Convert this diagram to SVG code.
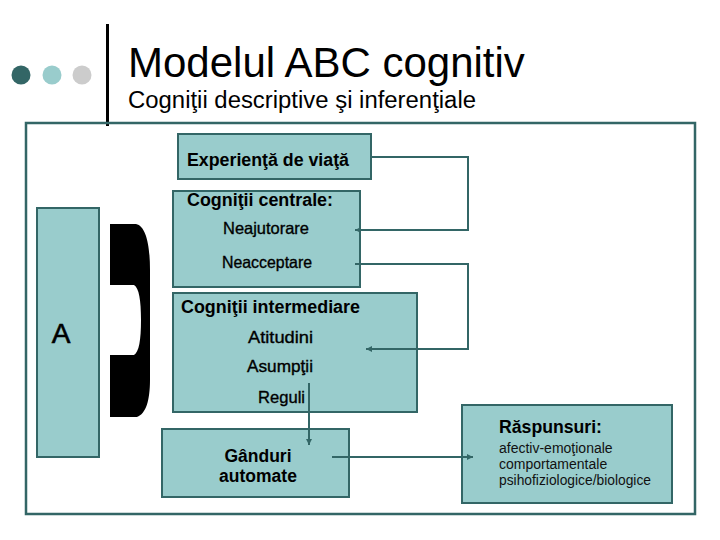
<svg xmlns="http://www.w3.org/2000/svg" width="720" height="540" viewBox="0 0 720 540">
<style>
.box{fill:#99cccc;stroke:#336666;stroke-width:2}
.hd{font-family:"Liberation Sans",Arial,sans-serif;font-weight:bold;font-size:17.5px;fill:#000}
.it{font-family:"Liberation Sans",Arial,sans-serif;font-size:16.5px;fill:#000;stroke:#000;stroke-width:0.35}
.sm{font-family:"Liberation Sans",Arial,sans-serif;font-size:14px;fill:#111}
.con{fill:none;stroke:#336666;stroke-width:2}
</style>
<defs>
<marker id="arr" markerUnits="userSpaceOnUse" markerWidth="8" markerHeight="8" refX="6" refY="3" orient="auto">
<path d="M0,0 L6,3 L0,6 Z" fill="#336666"/>
</marker>
</defs>
<rect width="720" height="540" fill="#ffffff"/>
<g id="header">
<circle cx="21" cy="75" r="9.5" fill="#336666"/>
<circle cx="52" cy="75" r="9.5" fill="#99cccc"/>
<circle cx="82" cy="75" r="9.5" fill="#cccccc"/>
<rect x="106" y="24" width="3" height="102" fill="#000"/>
<text x="128" y="77" font-family="'Liberation Sans',Arial,sans-serif" font-size="42" fill="#000">Modelul ABC cognitiv</text>
<text x="128" y="108" font-family="'Liberation Sans',Arial,sans-serif" font-size="23.5" fill="#000" textLength="348" lengthAdjust="spacingAndGlyphs">Cogniţii descriptive şi inferenţiale</text>
</g>
<rect id="frame" x="26" y="123" width="669" height="391" fill="none" stroke="#336666" stroke-width="2.5"/>
<g id="nodeA">
<rect class="box" x="37" y="208" width="62" height="249"/>
<text x="61" y="343" text-anchor="middle" font-family="'Liberation Sans',Arial,sans-serif" font-size="28" fill="#000" stroke="#000" stroke-width="0.6">A</text>
</g>
<g id="brace">
<path d="M110,224 L136,224 C146,226 150,245 150,270 L150,380 C150,400 146,414 137,417 L110,417 L110,355 L134,355 C139,352 141,340 141,320 C141,300 139,288 134,285 L110,285 Z" fill="#000"/>
</g>
<g id="experienta">
<rect class="box" x="178" y="134" width="193" height="45"/>
<text class="hd" x="187" y="166" textLength="162" lengthAdjust="spacingAndGlyphs">Experienţă de viaţă</text>
</g>
<g id="centrale">
<rect class="box" x="173" y="191" width="187" height="96"/>
<text class="hd" x="187" y="206" textLength="146" lengthAdjust="spacingAndGlyphs">Cogniţii centrale:</text>
<text class="it" x="223" y="234" textLength="86" lengthAdjust="spacingAndGlyphs">Neajutorare</text>
<text class="it" x="222" y="268" textLength="90" lengthAdjust="spacingAndGlyphs">Neacceptare</text>
</g>
<g id="intermediare">
<rect class="box" x="173" y="293" width="244" height="119"/>
<text class="hd" x="181" y="313" textLength="179" lengthAdjust="spacingAndGlyphs">Cogniţii intermediare</text>
<text class="it" x="248" y="343" textLength="65" lengthAdjust="spacingAndGlyphs">Atitudini</text>
<text class="it" x="247" y="372" textLength="66" lengthAdjust="spacingAndGlyphs">Asumpţii</text>
<text class="it" x="258" y="403" textLength="47" lengthAdjust="spacingAndGlyphs">Reguli</text>
</g>
<g id="ganduri">
<rect class="box" x="162" y="429" width="187" height="68"/>
<text class="hd" x="258" y="462" text-anchor="middle">Gânduri</text>
<text class="hd" x="258" y="482" text-anchor="middle">automate</text>
</g>
<g id="raspunsuri">
<rect class="box" x="462" y="405" width="210" height="98"/>
<text class="hd" x="499" y="433" textLength="103" lengthAdjust="spacingAndGlyphs">Răspunsuri:</text>
<text class="sm" x="499" y="453">afectiv-emoţionale</text>
<text class="sm" x="499" y="469">comportamentale</text>
<text class="sm" x="499" y="485" textLength="152" lengthAdjust="spacingAndGlyphs">psihofiziologice/biologice</text>
</g>
<g id="connectors">
<path class="con" d="M371,157 L468,157 L468,230 L355,230" marker-end="url(#arr)"/>
<path class="con" d="M355,264 L468,264 L468,349 L366,349" marker-end="url(#arr)"/>
<path class="con" d="M309,383 L309,445" marker-end="url(#arr)"/>
<path class="con" d="M332,457 L473,457" marker-end="url(#arr)"/>
</g>
</svg>
